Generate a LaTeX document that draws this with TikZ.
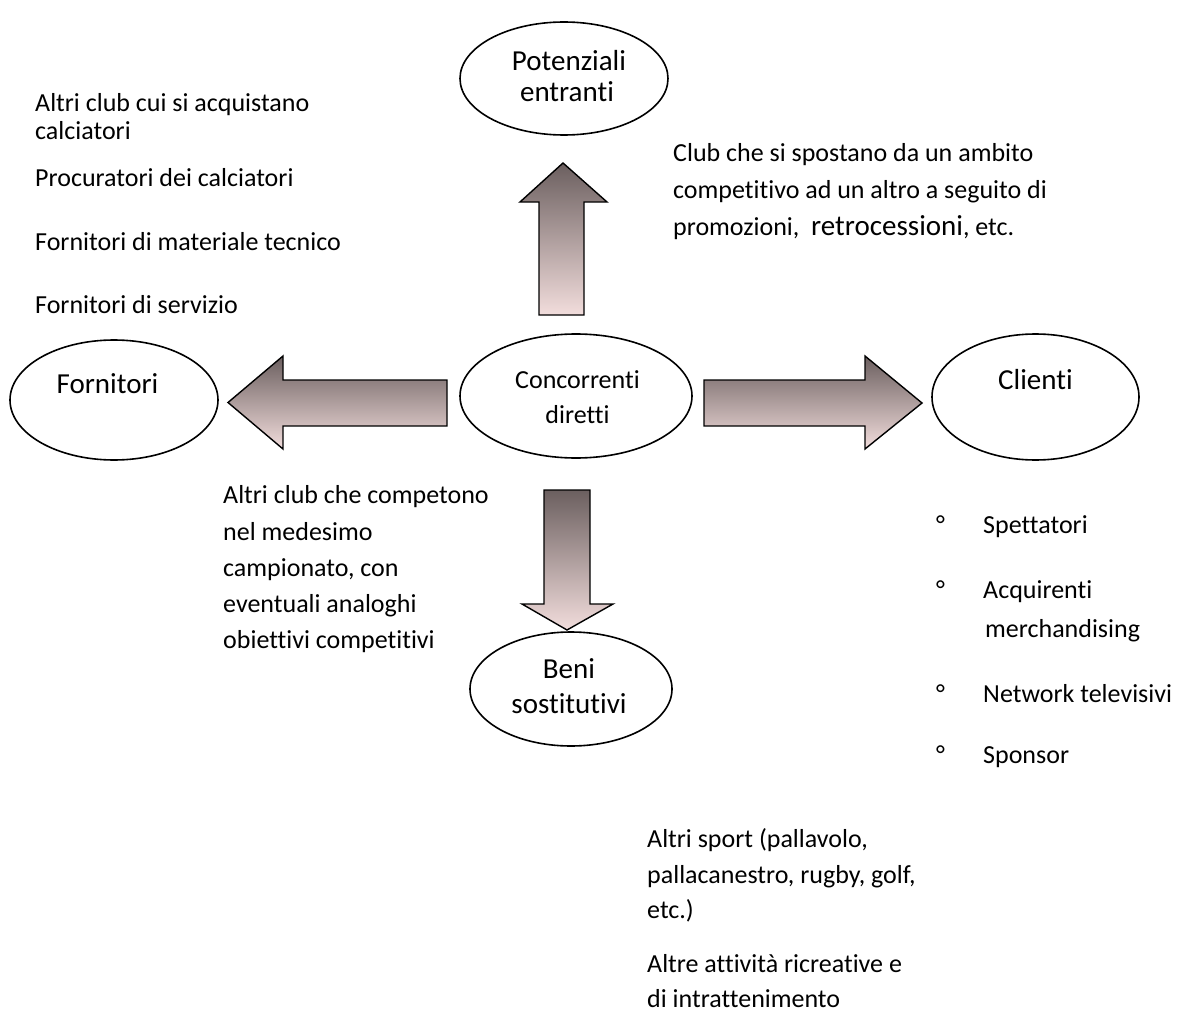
\documentclass[tikz,border=0pt]{standalone}
\usepackage{fontspec}
\setmainfont{Carlito}[Ligatures=NoCommon]
\usetikzlibrary{shapes.geometric}
\definecolor{adark}{HTML}{6B5F5F}
\definecolor{alight}{HTML}{F2DDDC}
\newcommand\bodyfnt{\fontsize{26}{31}\selectfont}
\newcommand\labfnt{\fontsize{29}{34}\selectfont}
\newcommand\bigfnt{\fontsize{29}{34}\selectfont}
\tikzset{
  oval/.style={ellipse, draw=black, line width=1.6pt, inner sep=0pt},
  blockarrow/.style={draw=black, line width=1.4pt, line join=miter, top color=adark, bottom color=alight},
  txt/.style={anchor=base west, inner sep=0pt, font=\bodyfnt},
  lab/.style={anchor=base, inner sep=0pt, font=\labfnt},
  lab2/.style={anchor=base, inner sep=0pt, font=\bodyfnt},
}
\begin{document}
\begin{tikzpicture}[x=1pt,y=-1pt]
\useasboundingbox (0,0) rectangle (1192,1030);
% ellipses
\node[oval, minimum width=208pt, minimum height=113pt] (pot) at (564,78.5) {};
\node[oval, minimum width=208pt, minimum height=120pt] (forn) at (114,400) {};
\node[oval, minimum width=232pt, minimum height=124pt] (conc) at (576,396) {};
\node[oval, minimum width=207pt, minimum height=126pt] (cli) at (1035.5,397) {};
\node[oval, minimum width=202pt, minimum height=114pt] (beni) at (571,689) {};
% ellipse labels
\node[lab] (potA) at (569,71) {Potenziali};
\node[lab] (potB) at (567,102) {entranti};
\node[lab2] (concA) at (577.5,388) {Concorrenti};
\node[lab2] (concB) at (577.5,423) {diretti};
\node[lab] (fornA) at (107.5,393) {Fornitori};
\node[lab] (cliA) at (1035.5,389) {Clienti};
\node[lab] (beniA) at (569,678) {Beni};
\node[lab] (beniB) at (569,713) {sostitutivi};
% block arrows
\path[blockarrow] (539,315) -- (539,202) -- (520,202) -- (563,163) -- (607,202) -- (584,202) -- (584,315) -- cycle;
\path[blockarrow] (447,380) -- (283,380) -- (283,356) -- (228,402.5) -- (283,449) -- (283,426) -- (447,426) -- cycle;
\path[blockarrow] (704,380) -- (865,380) -- (865,356) -- (922,403) -- (865,449) -- (865,426) -- (704,426) -- cycle;
\path[blockarrow] (544,490) -- (590,490) -- (590,604) -- (613,604) -- (567,630) -- (522,604) -- (544,604) -- cycle;
% top-left texts
\node[txt] (t1) at (35,111.7) {Altri club cui si acquistano};
\node[txt] (t2) at (35,139.3) {calciatori};
\node[txt] (t3) at (35,186) {Procuratori dei calciatori};
\node[txt] (t4) at (35,250) {Fornitori di materiale tecnico};
\node[txt] (t5) at (35,313.3) {Fornitori di servizio};
% top-right texts
\node[txt] (r1) at (673,162) {Club che si spostano da un ambito};
\node[txt] (r2) at (673,198) {competitivo ad un altro a seguito di};
\node[txt] (r3) at (673,235) {promozioni,\ \ {\bigfnt retrocessioni}, etc.};
% middle-left texts
\node[txt] (m1) at (223,503) {Altri club che competono};
\node[txt] (m2) at (223,540) {nel medesimo};
\node[txt] (m3) at (223,576) {campionato, con};
\node[txt] (m4) at (223,612) {eventuali analoghi};
\node[txt] (m5) at (223,648) {obiettivi competitivi};
% clients list
\node[txt] (b1) at (936,533) {°};
\node[txt] (c1) at (983,533) {Spettatori};
\node[txt] (b2) at (936,598) {°};
\node[txt] (c2) at (983,598) {Acquirenti};
\node[txt] (c3) at (985,637) {merchandising};
\node[txt] (b3) at (936,702) {°};
\node[txt] (c4) at (983,702) {Network televisivi};
\node[txt] (b4) at (936,763) {°};
\node[txt] (c5) at (983,763) {Sponsor};
% bottom texts
\node[txt] (s1) at (647,847) {Altri sport (pallavolo,};
\node[txt] (s2) at (647,883) {pallacanestro, rugby, golf,};
\node[txt] (s3) at (647,918) {etc.)};
\node[txt] (s4) at (647,972) {Altre attività ricreative e};
\node[txt] (s5) at (647,1007) {di intrattenimento};
\end{tikzpicture}
\end{document}
